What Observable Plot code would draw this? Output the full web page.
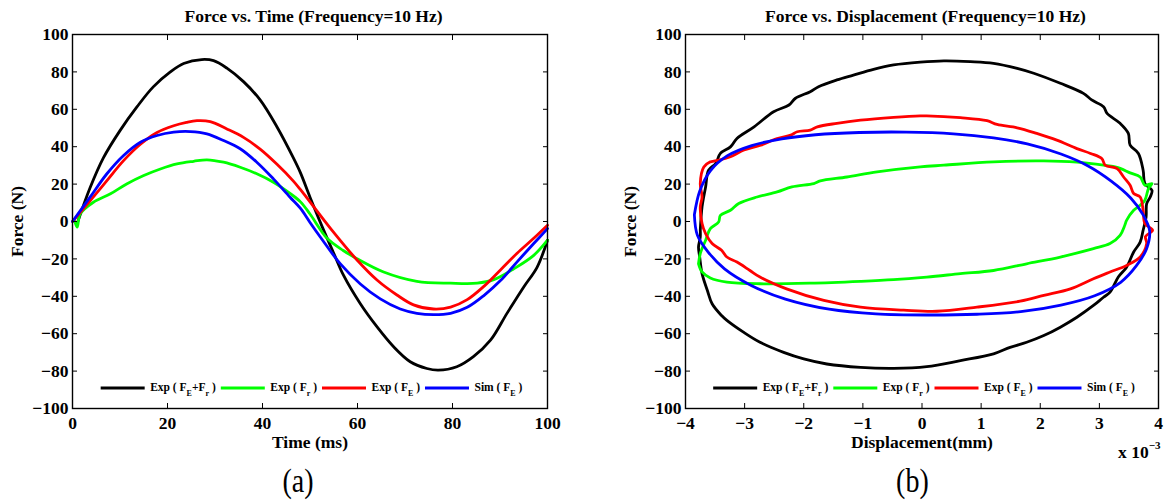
<!DOCTYPE html>
<html>
<head>
<meta charset="utf-8">
<script src="https://cdn.jsdelivr.net/npm/d3@7"></script>
<script src="https://cdn.jsdelivr.net/npm/@observablehq/plot@0.6"></script>
<style>
  html, body { margin: 0; padding: 0; background: #fff; }
  #root { position: relative; width: 1164px; height: 502px; overflow: hidden; background: #fff; }
  #root > svg { position: absolute; top: 0; }
</style>
</head>
<body>
<div id="root"></div>
<script>
// ---------- labels, ticks, series ----------
const titleTime = "Force vs. Time (Frequency=10 Hz)";
const titleDisp = "Force vs. Displacement (Frequency=10 Hz)";
const labelTime = "Time (ms)";
const labelDisp = "Displacement(mm)";
const labelForce = "Force (N)";
const seriesNames = ["Exp ( F_E+F_r )", "Exp ( F_r )", "Exp ( F_E )", "Sim ( F_E )"];
const seriesColors = ["#000000", "#00ff00", "#ff0000", "#0000ff"];
const timeTicks = [0, 20, 40, 60, 80, 100];
const dispTicks = [-4, -3, -2, -1, 0, 1, 2, 3, 4];
const forceTicks = [-100, -80, -60, -40, -20, 0, 20, 40, 60, 80, 100];
const panelTags = ["(a)", "(b)"];

// ---------- (a) force vs time ----------
const tBlack = [1, 3.7, 6.5, 10, 13.6, 17, 20.6, 23.4, 27.2, 29.7, 32.5, 36, 39.5, 43, 46.5, 48, 50, 52.6, 55, 57.1, 60.6, 64, 67.6, 71.1, 74.6, 77, 80.9, 84.4, 88, 91.5, 95, 97.8, 100];
const fBlack = [-1, 18, 34, 48.6, 61.4, 72, 80, 84.5, 86.6, 86, 82, 74.8, 65, 50.8, 34, 26, 13, -3, -17, -29, -44, -56, -67, -75, -78.6, -79.5, -77.7, -72.3, -63.5, -49, -35, -24.5, -10];
const tGreen = [0.5, 1, 1.6, 4.4, 8, 11.4, 15, 18.5, 22, 25.5, 28.3, 31.8, 35.3, 38.8, 42.3, 45.8, 48, 50, 53.6, 57, 59.9, 65.5, 72.5, 79.6, 85.2, 88.7, 92.9, 97.1, 100];
const fGreen = [0, -3, 4, 10.3, 14.8, 20.1, 24.6, 28.1, 30.8, 32.2, 33, 31.7, 29, 25.5, 21, 15, 10.5, 4, -9, -15.5, -19.9, -27, -32, -33, -33, -31.1, -25.3, -18.1, -10];
const tRed = [0, 3.7, 7.2, 10.7, 14.3, 17.8, 21.3, 24, 26.2, 29, 32.5, 36, 39.5, 43, 46.5, 48, 50, 54.6, 59.9, 64.1, 68.3, 71.8, 76, 79.6, 83.1, 86.6, 90.1, 93.6, 97.1, 100];
const fRed = [0, 11, 21.7, 32.4, 41.3, 47.6, 51.2, 53, 53.9, 53.4, 49.5, 45, 38.7, 30.7, 21.6, 17, 10.5, -4.6, -20.6, -31.3, -39.3, -44.6, -46.8, -45.8, -41.8, -34.7, -25.9, -17, -9, -2];
const tBlue = [0, 3.7, 7.2, 10.7, 14.3, 17.8, 21.3, 24.8, 28.3, 31.8, 35.3, 38.8, 42.3, 45.8, 48, 50, 52.2, 56.4, 60.6, 64.8, 69, 72.5, 76, 79.6, 83.1, 86.6, 90.1, 93.6, 97.1, 100];
const fBlue = [0, 13, 25.4, 35.2, 42.4, 46, 47.8, 48.1, 46.9, 43.3, 38.9, 31.7, 22.8, 13, 7, -0.5, -8.4, -22.7, -33.4, -41.4, -46.8, -49.1, -49.8, -49.1, -45.9, -39.6, -31.6, -21.6, -11.8, -3.8];

// ---------- (b) force vs displacement (x 10^-3) ----------
const dBlack = [-3.75, -3.72, -3.66, -3.61, -3.49, -3.41, -3.24, -3.13, -2.84, -2.51, -2.25, -2.14, -1.89, -1.75, -1.44, -1.16, -0.82, -0.48, -0.03, 0.37, 0.82, 1.21, 1.61, 1.89, 2.34, 2.73, 2.87, 3.07, 3.13, 3.35, 3.49, 3.52, 3.66, 3.74, 3.77, 3.89, 3.86, 3.80, 3.79, 3.74, 3.69, 3.58, 3.46, 3.32, 3.18, 3.07, 2.90, 2.62, 2.34, 2.06, 1.77, 1.49, 1.21, 0.65, 0.08, -0.48, -1.04, -1.61, -2.0, -2.34, -2.74, -3.02, -3.30, -3.39, -3.55, -3.63, -3.72, -3.76, -3.78, -3.75, -3.75];
const gBlack = [-4.7, 7.8, 18.5, 27.4, 31, 36.4, 39.9, 44.4, 50.6, 58.7, 62.3, 65.9, 69.4, 72.1, 75.7, 78.3, 81.4, 83.7, 85.2, 85.9, 85.5, 84.6, 81.9, 79.3, 73.9, 68.5, 65, 61.4, 57.8, 52.5, 47.1, 40.8, 36.4, 27.4, 20.3, 16.7, 13.1, 9.6, 2.4, -4.7, -11, -16.3, -24.4, -29.7, -37.8, -40.5, -44.9, -51.2, -56.5, -61, -64.6, -67.3, -70.8, -74.4, -77.6, -78.5, -78, -76.2, -73.5, -70, -64.6, -59.2, -52.9, -50.3, -44, -36.9, -27.9, -19, -13.7, -8.3, -4.7];
const dGreen = [-3.78, -3.75, -3.66, -3.58, -3.44, -3.41, -3.24, -3.10, -2.79, -2.45, -2.20, -1.83, -1.72, -1.27, -0.76, -0.03, 0.37, 1.21, 2.06, 2.62, 3.07, 3.30, 3.52, 3.69, 3.77, 3.89, 3.83, 3.77, 3.69, 3.58, 3.46, 3.43, 3.35, 3.18, 2.90, 2.34, 1.77, 1.21, 0.65, 0.08, -0.48, -1.04, -1.89, -2.74, -3.30, -3.58, -3.72, -3.78];
const gGreen = [-22.6, -17.2, -10, -3.8, -0.3, 3.3, 6, 9.6, 13.1, 15.8, 18.5, 20.3, 21.7, 23.8, 26.5, 29.2, 30.1, 31.9, 32.4, 31.7, 30.1, 28.9, 26, 23.8, 19.4, 20.3, 17.6, 11.4, 8.7, 6, 0.6, -2, -7.4, -11.8, -14.5, -19, -22.6, -26.2, -27.9, -29.7, -31.1, -32, -33, -33.3, -32.4, -30.2, -27, -22.6];
const dRed = [-3.58, -3.44, -3.24, -3.01, -2.73, -2.45, -2.22, -2.11, -1.89, -1.77, -1.44, -1.04, -0.48, -0.03, 0.08, 0.65, 1.10, 1.27, 1.61, 1.94, 2.28, 2.62, 2.85, 3.04, 3.10, 3.30, 3.41, 3.52, 3.58, 3.69, 3.74, 3.77, 3.90, 3.78, 3.80, 3.69, 3.46, 3.18, 2.90, 2.51, 2.06, 1.66, 0.93, 0.25, -0.31, -1.04, -1.66, -2.29, -2.74, -2.91, -3.13, -3.30, -3.39, -3.55, -3.66, -3.72, -3.75, -3.72, -3.75, -3.69, -3.58];
const gRed = [31.9, 32.8, 34.6, 38.2, 40.8, 44.4, 46.2, 48, 48.9, 50.6, 52.5, 54.2, 55.7, 56.5, 56.5, 55.5, 53.9, 51.9, 50.1, 47.1, 43.5, 39, 36.4, 33.7, 30.1, 28.3, 23.8, 19.4, 15, 13.1, 6, -1.1, -4.7, -8, -11.8, -19, -23.5, -27, -30.6, -36, -39.5, -42.6, -45.8, -48, -47.4, -45.8, -42.2, -36, -29.7, -26.2, -21.7, -19, -15.4, -11.8, -6.5, -1.1, 7.8, 13.1, 20.3, 29.2, 31.9];
const dBlue = [-3.85, -3.76, -3.58, -3.29, -2.88, -2.37, -1.80, -1.06, -0.27, 0.53, 1.21, 1.78, 2.35, 2.81, 3.20, 3.53, 3.74, 3.85, 3.80, 3.63, 3.36, 2.92, 2.35, 1.67, 0.93, 0.08, -0.78, -1.57, -2.31, -2.88, -3.34, -3.62, -3.80, -3.85];
const gBlue = [3.6, 16.2, 27.1, 35.2, 40.6, 44.2, 46.4, 47.6, 47.8, 46.9, 44.7, 41.5, 36.1, 29.7, 21.6, 12.6, 3.6, -5, -14.4, -23.5, -32.5, -39.7, -44.7, -48.2, -49.6, -50, -49.4, -46.9, -41.5, -34.3, -25.3, -16.2, -7.2, 3.6];

// ---------- drawing ----------
const FONT = "'Liberation Serif', 'DejaVu Serif', serif";
const root = document.getElementById("root");
const pts = (xs, ys) => xs.map((x, i) => ({x, y: ys[i]}));

const timeSeries = [[tBlack, fBlack], [tGreen, fGreen], [tRed, fRed], [tBlue, fBlue]];
const dispSeries = [[dBlack, gBlack], [dGreen, gGreen], [dRed, gRed], [dBlue, gBlue]];

function makePanel({width, marginLeft, marginRight, xDomain, xTicks, xLabel, series}) {
  return Plot.plot({
    width, height: 502, marginLeft, marginRight, marginTop: 34, marginBottom: 94,
    style: `font-family: ${FONT}; font-size: 17.5px; font-weight: bold; color: #000; background: transparent; overflow: visible;`,
    x: {domain: xDomain},
    y: {domain: [-100, 100]},
    marks: [
      ...series.map(([xs, ys], i) => Plot.line(pts(xs, ys), {x: "x", y: "y", stroke: seriesColors[i], strokeWidth: 2.8, strokeLinejoin: "round", strokeLinecap: "round", curve: "catmull-rom"})),
      Plot.frame({stroke: "#000", strokeWidth: 1.4}),
      Plot.axisX(xTicks, {anchor: "bottom", tickSize: -5, tickPadding: 13, label: xLabel, labelAnchor: "center", labelOffset: 39, labelArrow: "none"}),
      Plot.axisX(xTicks, {anchor: "top", tickSize: -5, tickFormat: () => "", label: null}),
      Plot.axisY(forceTicks, {anchor: "left", tickSize: -5, tickPadding: 9, label: labelForce, labelAnchor: "center", labelOffset: 62, labelArrow: "none"}),
      Plot.axisY(forceTicks, {anchor: "right", tickSize: -5, tickFormat: () => "", label: null})
    ]
  });
}

const left = makePanel({width: 582, marginLeft: 72, marginRight: 35, xDomain: [0, 100], xTicks: timeTicks, xLabel: labelTime, series: timeSeries});
left.style.left = "0px";
root.appendChild(left);
const right = makePanel({width: 582, marginLeft: 103, marginRight: 6, xDomain: [-4, 4], xTicks: dispTicks, xLabel: labelDisp, series: dispSeries});
right.style.left = "582px";
root.appendChild(right);

// overlay: titles, legends, panel tags, exponent
const ov = d3.select(root).append("svg")
  .attr("width", 1164).attr("height", 502)
  .style("left", "0px")
  .style("font-family", FONT)
  .style("font-weight", "bold")
  .style("white-space", "pre");

const frames = [{x0: 72, x1: 547}, {x0: 685, x1: 1158}];
[titleTime, titleDisp].forEach((t, i) => {
  ov.append("text").attr("x", (frames[i].x0 + frames[i].x1) / 2 + 4).attr("y", 21.7)
    .attr("text-anchor", "middle").attr("font-size", 17.5).text(t);
});

function addLegend(cx) {
  const g = ov.append("g");
  let x = 0;
  seriesNames.forEach((name, i) => {
    g.append("line").attr("x1", x).attr("x2", x + 44).attr("y1", 388).attr("y2", 388)
      .attr("stroke", seriesColors[i]).attr("stroke-width", 2.8);
    x += 49.5;
    const txt = g.append("text").attr("x", x).attr("y", 391).attr("font-size", 11.5);
    const parts = name.split(/_(.)/);
    parts.forEach((p, k) => {
      const ts = txt.append("tspan").text(p);
      if (k % 2 === 1) ts.attr("font-size", 8).attr("dy", 4.5);
      else if (k > 0) ts.attr("dy", -4.5);
    });
    x += txt.node().getComputedTextLength() + 5;
  });
  const total = x - 5;
  g.attr("transform", `translate(${cx - total / 2},0)`);
}
addLegend((frames[0].x0 + frames[0].x1) / 2 + 2);
addLegend((frames[1].x0 + frames[1].x1) / 2 + 2.5);

// exponent of displacement axis
const ex = ov.append("text").attr("x", 1118).attr("y", 457.5).attr("font-size", 17.5);
ex.append("tspan").text("x 10");
ex.append("tspan").attr("font-size", 11).attr("dy", -8.5).text("\u22123");

// panel tags
const tagX = [298, 912.4];
panelTags.forEach((t, i) => {
  ov.append("text")
    .attr("transform", `translate(${tagX[i]},491.7) scale(1,1.22)`)
    .attr("text-anchor", "middle").attr("font-size", 28).attr("font-weight", "normal")
    .text(t);
});
</script>
</body>
</html>
